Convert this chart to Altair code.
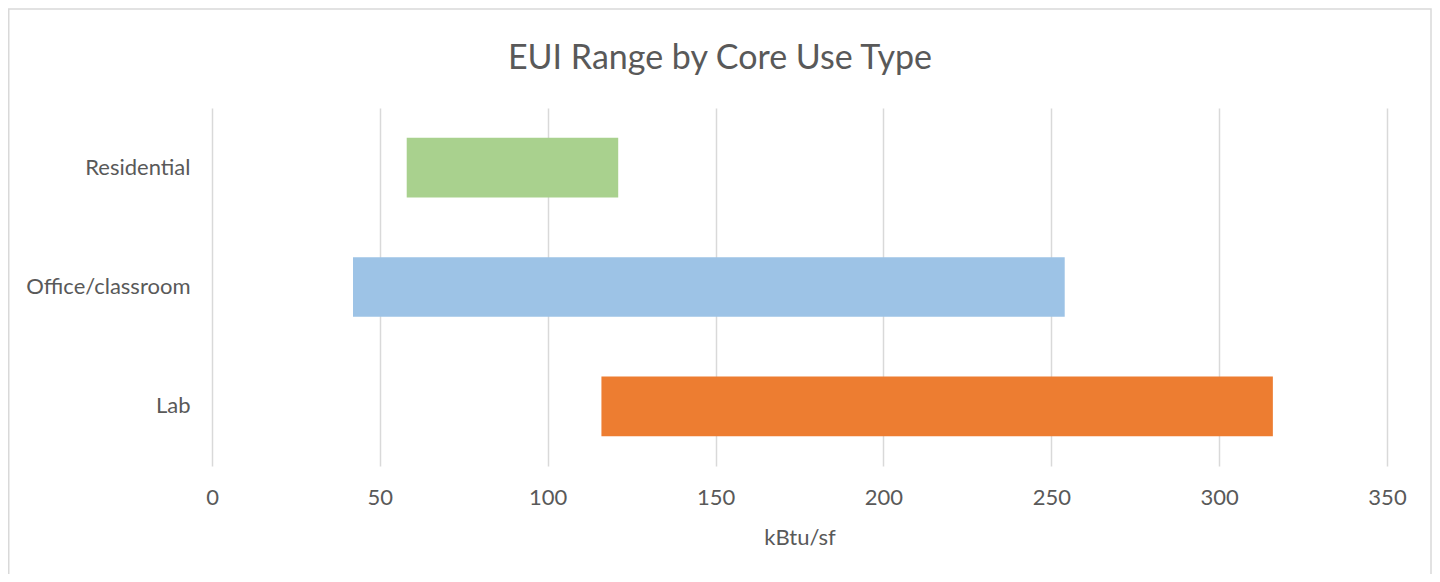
import altair as alt
import pandas as pd

categories = ["Residential", "Office/classroom", "Lab"]
low_values = [58, 42, 116]
high_values = [121, 254, 316]
colors = ["#A9D18E", "#9DC3E6", "#ED7D31"]
x_ticks = [0, 50, 100, 150, 200, 250, 300, 350]

df = pd.DataFrame({"category": categories, "low": low_values, "high": high_values})

FONT = "Lato"
TXT = "#595959"

border = alt.Chart(pd.DataFrame({"a": [0]})).mark_rect(
    fill="white", fillOpacity=0, stroke="#D9D9D9", strokeWidth=1.5
).encode(
    x=alt.value(-203.25), x2=alt.value(1219), y=alt.value(-99), y2=alt.value(600)
)

bars = alt.Chart(df).mark_bar().encode(
    y=alt.Y(
        "category:N",
        sort=categories,
        scale=alt.Scale(paddingInner=0.5, paddingOuter=0.25),
        axis=alt.Axis(
            title=None, ticks=False, tickSize=0, domain=False, grid=False,
            labelFont=FONT, labelFontSize=22, labelColor=TXT, labelPadding=22,
        ),
    ),
    x=alt.X(
        "low:Q",
        scale=alt.Scale(domain=[0, 350], nice=False),
        axis=alt.Axis(
            values=x_ticks, title="kBtu/sf", ticks=False, tickSize=0, domain=False,
            grid=True, gridColor="#D9D9D9", gridWidth=1.5, labelFlush=False,
            labelFont=FONT, labelFontSize=22, labelColor=TXT, labelPadding=21,
            titleFont=FONT, titleFontSize=22, titleColor=TXT, titleFontWeight="normal",
            titlePadding=19,
        ),
    ),
    x2="high:Q",
    color=alt.Color("category:N", scale=alt.Scale(domain=categories, range=colors), legend=None),
)

chart = alt.layer(border, bars).properties(
    width=1175,
    height=358,
    autosize=alt.AutoSizeParams(type="none"),
    padding={"left": 204, "top": 100, "right": 45, "bottom": 108},
    title=alt.TitleParams(
        text="EUI Range by Core Use Type", font=FONT, fontSize=34, fontWeight="normal",
        color=TXT, anchor="middle", dx=-79.5, baseline="alphabetic", offset=0, dy=95,
    ),
).configure_view(stroke=None)

chart.save("out.html", embed_options={"renderer": "svg", "actions": False})
